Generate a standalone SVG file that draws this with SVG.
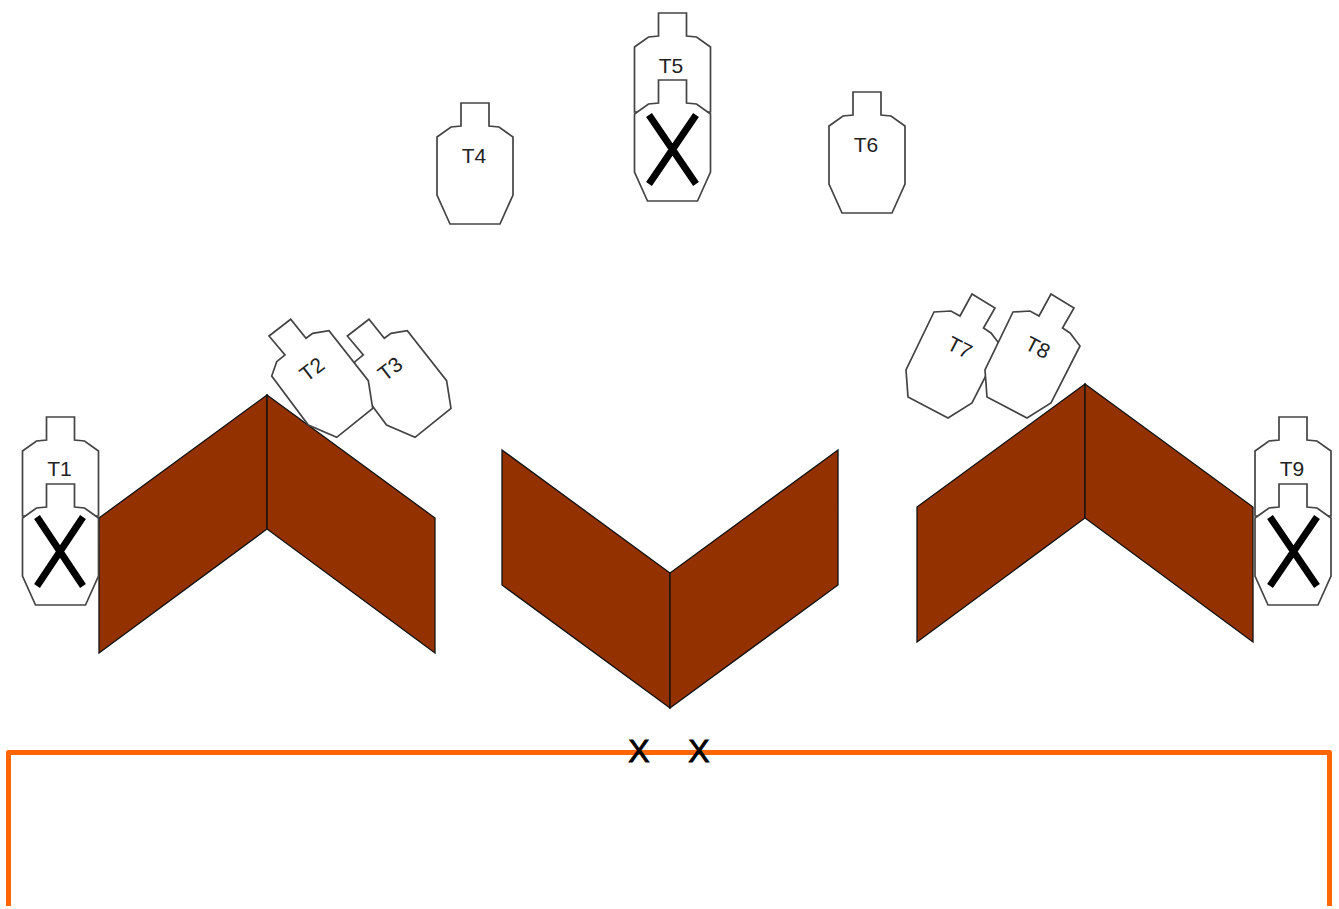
<svg xmlns="http://www.w3.org/2000/svg" width="1339" height="909" viewBox="0 0 1339 909">
<style>
text{font-family:"Liberation Sans",Arial,sans-serif;fill:#222;text-anchor:middle}
.lbl{font-size:21px}
.tg{fill:#fff;stroke:#444;stroke-width:1.7;stroke-linejoin:miter}
.wall{fill:#933100;stroke:#111;stroke-width:1.3;stroke-linejoin:miter}
.mark{stroke:#000;stroke-width:7;fill:none}
.range{fill:none;stroke:#ff6600;stroke-width:5;stroke-linejoin:round}
.pos{font-size:32px;fill:#000;stroke:#000;stroke-width:.9}
</style>
<defs>
<polygon id="t" class="tg" points="-14,0 14,0 14,23 24,24 38,34 38,92 25,121 -25,121 -38,92 -38,34 -24,24 -14,23"/>
<polygon id="tu" class="tg" points="-14,0 14,0 14,23 24,24 38,34 38,99 -38,99 -38,34 -24,24 -14,23"/>
<polygon id="r2" class="tg" points="269,336 290.700,319.300 306,338.300 312.700,333.300 329,330.700 368.300,380.700 372.700,408.300 336.700,437.300 308.300,425 271.700,376 276.700,361.700 285,355"/>
<polygon id="r8" class="tg" points="1051,294 1074,308 1062.500,328 1070,333 1080,346 1051,403 1027,418 987,397 985,370 1013,312 1030,311 1039,316"/>
</defs>
<rect width="1339" height="909" fill="#fff"/>
<g id="wall-left"><polygon class="wall" points="99,518 267,395 267,529 99,653"/><polygon class="wall" points="267,395 435,518 435,653 267,529"/></g>
<g id="wall-center"><polygon class="wall" points="502,450 670,573 670,708 502,585"/><polygon class="wall" points="838,450 670,573 670,708 838,585"/></g>
<g id="wall-right"><polygon class="wall" points="917,507 1085,384 1085,518 917,642"/><polygon class="wall" points="1085,384 1253,507 1253,642 1085,518"/></g>
<g id="T1"><use href="#tu" x="60.500" y="417"/><text class="lbl" x="59.500" y="476">T1</text><use href="#t" x="60.500" y="484"/><path class="mark" d="M37,517L83,586M83,517L37,586"/></g>
<g id="T3"><use href="#r2" x="78.300"/><text class="lbl" transform="translate(394.600 374.500) rotate(-38)">T3</text></g>
<g id="T2"><use href="#r2"/><text class="lbl" transform="translate(316.500 375) rotate(-38)">T2</text></g>
<g id="T4"><use href="#t" x="475" y="103"/><text class="lbl" x="474" y="163">T4</text></g>
<g id="T5"><use href="#tu" x="672.500" y="13"/><text class="lbl" x="671" y="73">T5</text><use href="#t" x="672.500" y="80"/><path class="mark" d="M649,115L696,184M696,115L649,184"/></g>
<g id="T6"><use href="#t" x="867" y="92"/><text class="lbl" x="866" y="152">T6</text></g>
<g id="T7"><use href="#r8" x="-79"/><text class="lbl" transform="translate(956.500 354) rotate(27)">T7</text></g>
<g id="T8"><use href="#r8"/><text class="lbl" transform="translate(1034.500 354) rotate(27)">T8</text></g>
<g id="T9"><use href="#tu" x="1293" y="417"/><text class="lbl" x="1292" y="476">T9</text><use href="#t" x="1293" y="484"/><path class="mark" d="M1270,517L1317,586M1317,517L1270,586"/></g>
<g id="connectors"><path class="range" d="M8.500,906V752.500H1329.500V906"/></g>
<g id="marks"><text class="pos" x="639" y="761.500">X</text><text class="pos" x="699" y="761.500">X</text></g>
</svg>
